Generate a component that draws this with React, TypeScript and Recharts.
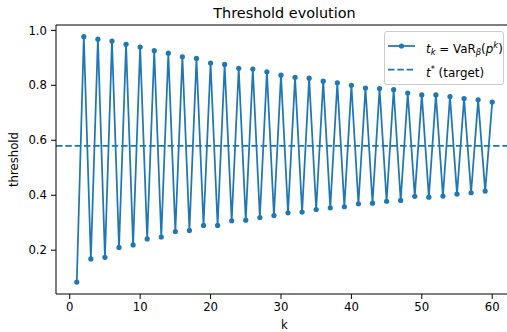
import { LineChart, Line, XAxis, YAxis, ReferenceLine } from "recharts";

const kValues = [
  1, 2, 3, 4, 5, 6, 7, 8, 9, 10, 11, 12, 13, 14, 15, 16, 17, 18, 19, 20,
  21, 22, 23, 24, 25, 26, 27, 28, 29, 30, 31, 32, 33, 34, 35, 36, 37, 38, 39, 40,
  41, 42, 43, 44, 45, 46, 47, 48, 49, 50, 51, 52, 53, 54, 55, 56, 57, 58, 59, 60,
];

const thresholds = [
  0.084, 0.977, 0.168, 0.968, 0.174, 0.961, 0.21, 0.949, 0.219, 0.939,
  0.241, 0.926, 0.248, 0.917, 0.268, 0.904, 0.272, 0.898, 0.29, 0.881,
  0.29, 0.876, 0.307, 0.862, 0.309, 0.859, 0.319, 0.849, 0.326, 0.837,
  0.336, 0.829, 0.339, 0.826, 0.348, 0.815, 0.354, 0.809, 0.358, 0.8,
  0.369, 0.79, 0.371, 0.788, 0.378, 0.784, 0.381, 0.772, 0.396, 0.765,
  0.393, 0.765, 0.397, 0.759, 0.404, 0.752, 0.409, 0.747, 0.415, 0.739,
];

const target = 0.58;
const xTicks = [0, 10, 20, 30, 40, 50, 60];
const yTicks = [0.2, 0.4, 0.6, 0.8, 1.0];
const xDomain = [-1.95, 62.95];
const yDomain = [0.0405, 1.0195];

const blue = "#1f77b4";
const font = "'DejaVu Sans', sans-serif";
const tickStyle = { fill: "#000", fontSize: 11.7, fontFamily: font };

const data = kValues.map((k, i) => ({ k, t: thresholds[i] }));

function LegendBox() {
  const row = { position: "absolute" as const, left: 41, lineHeight: "14px", whiteSpace: "nowrap" as const };
  const sub = { fontSize: "0.7em", verticalAlign: "-0.3em", fontStyle: "italic" };
  const sup = { fontSize: "0.7em", verticalAlign: "0.55em", fontStyle: "italic" };
  return (
    <div
      style={{
        position: "absolute",
        left: 384,
        top: 31,
        width: 120,
        height: 54,
        border: "1px solid #cccccc",
        borderRadius: 3,
        background: "rgba(255,255,255,0.8)",
        fontFamily: font,
        fontSize: 11.9,
        color: "#000",
        boxSizing: "border-box",
      }}
    >
      <svg width={30} height={54} style={{ position: "absolute", left: 2, top: 0 }}>
        <line x1={1} x2={28} y1={14} y2={14} stroke={blue} strokeWidth={1.75} />
        <circle cx={14.5} cy={14} r={2.6} fill={blue} />
        <line x1={1} x2={28} y1={37.5} y2={37.5} stroke={blue} strokeWidth={1.75} strokeDasharray="6.5 2.8" />
      </svg>
      <div style={{ ...row, top: 6 }}>
        <i>t</i>
        <span style={sub}>k</span> = VaR<span style={sub}>β</span>(<i>p</i>
        <span style={sup}>k</span>)
      </div>
      <div style={{ ...row, top: 30 }}>
        <i>t</i>
        <span style={{ ...sup, fontStyle: "normal" }}>*</span> (target)
      </div>
    </div>
  );
}

export default function App() {
  return (
    <div style={{ position: "absolute", left: 0, top: 0, width: 507, height: 332, overflow: "hidden", background: "#fff" }}>
      <LineChart width={520} height={332} data={data} margin={{ top: 25, right: 7, left: 0, bottom: 0 }}>
        <XAxis
          dataKey="k"
          type="number"
          domain={xDomain}
          ticks={xTicks}
          allowDataOverflow
          height={38}
          tickSize={5}
          tickMargin={3.5}
          stroke="#000"
          tick={tickStyle}
          label={{ value: "k", position: "insideBottom", offset: 3, style: { fill: "#000", fontSize: 11.7, fontFamily: font } }}
        />
        <YAxis
          type="number"
          domain={yDomain}
          ticks={yTicks}
          allowDataOverflow
          width={56}
          tickSize={5}
          tickMargin={4}
          stroke="#000"
          tick={tickStyle}
          tickFormatter={(v) => v.toFixed(1)}
          label={{
            value: "threshold",
            angle: -90,
            position: "insideLeft",
            offset: 14,
            style: { fill: "#000", fontSize: 11.7, fontFamily: font, textAnchor: "middle" },
          }}
        />
        {/* top spine */}
        <ReferenceLine y={yDomain[1]} stroke="#000" strokeWidth={1} ifOverflow="visible" />
        <ReferenceLine y={target} stroke={blue} strokeWidth={1.75} strokeDasharray="6.5 2.8" ifOverflow="extendDomain" />
        <Line
          type="linear"
          dataKey="t"
          stroke={blue}
          strokeWidth={1.75}
          dot={{ r: 2.6, fill: blue, stroke: blue, strokeWidth: 0 }}
          activeDot={false}
          isAnimationActive={false}
        />
        <text x={284.5} y={18.3} textAnchor="middle" fontSize={14.4} fontFamily={font} fill="#000">
          Threshold evolution
        </text>
      </LineChart>
      <LegendBox />
    </div>
  );
}
